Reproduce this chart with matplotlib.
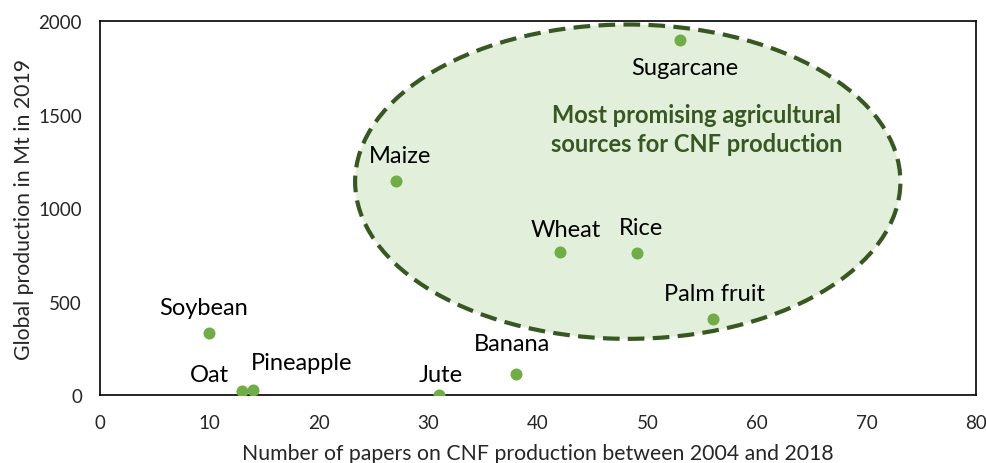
import matplotlib
matplotlib.use("Agg")
import matplotlib.pyplot as plt
from matplotlib.patches import Ellipse

plt.rcParams["font.family"] = ["Lato", "DejaVu Sans"]

# data
crops = ["Soybean", "Oat", "Pineapple", "Jute", "Banana", "Palm fruit",
         "Rice", "Wheat", "Maize", "Sugarcane"]
papers = [10, 13, 14, 31, 38, 56, 49, 42, 27, 53]
production = [334, 24, 29, 3, 115, 409, 762, 767, 1147, 1900]
# label offsets in points (dx, dy)
offsets = [(-4, 18), (-24, 12), (35, 20), (1, 15), (-3, 22), (1, 18),
           (3, 18), (4, 16), (3, 18), (3, -20)]

green = "#70AD47"
dark = "#385723"

fig = plt.figure(figsize=(9.87, 4.64), dpi=100)
ax = fig.add_axes([0.1013, 0.1455, 0.8875, 0.807])

# promising region
ell = Ellipse((48.2, 1142), 49.8, 1679, facecolor="#E2EFDA",
              edgecolor=dark, linestyle=(0, (4, 2)), linewidth=3, zorder=1)
ax.add_patch(ell)
ax.text(54.5, 1425, "Most promising agricultural\nsources for CNF production",
        ha="center", va="center", fontsize=17, fontweight="bold",
        color=dark, linespacing=1.3, zorder=3)

ax.scatter(papers, production, s=75, color=green, zorder=4, linewidths=0)
for name, x, y, off in zip(crops, papers, production, offsets):
    ax.annotate(name, (x, y), xytext=off, textcoords="offset points",
                ha="center", va="center", fontsize=17, color="black", zorder=5)

ax.set_xlim(0, 80)
ax.set_ylim(0, 2000)
ax.set_xticks(range(0, 81, 10))
ax.set_yticks(range(0, 2001, 500))
ax.tick_params(length=0, labelsize=13.5, colors="#262626", pad=13)
for s in ax.spines.values():
    s.set_linewidth(1.2)
    s.set_color("black")

ax.set_xlabel("Number of papers on CNF production between 2004 and 2018",
              fontsize=15.3, color="#262626", labelpad=9)
ax.set_ylabel("Global production in Mt in 2019", fontsize=15.3,
              color="#262626", labelpad=3)

fig.savefig("out.png", dpi=100)
